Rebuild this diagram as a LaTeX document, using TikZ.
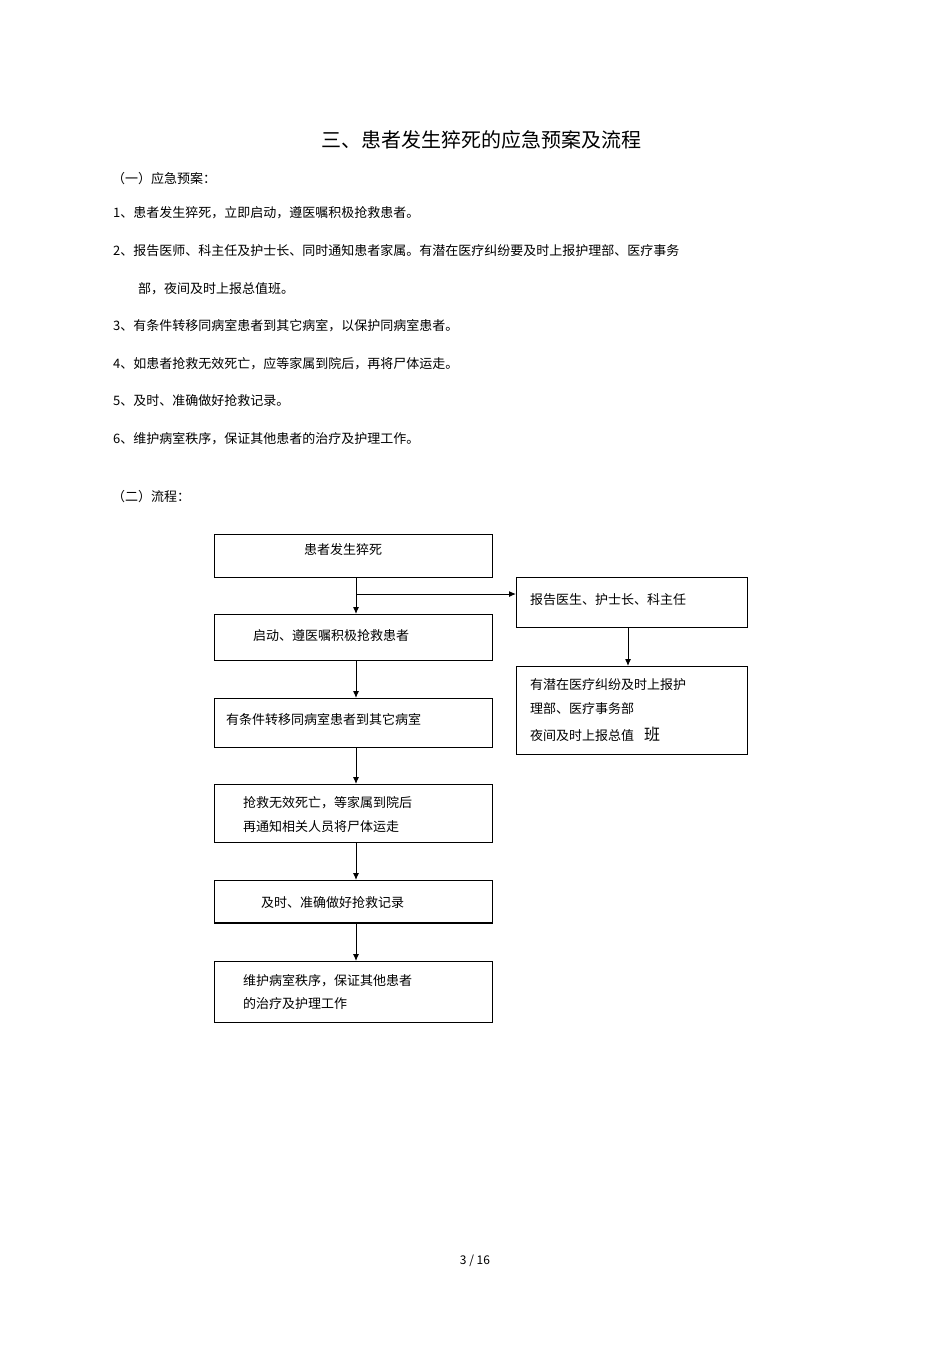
\documentclass[tikz,border=0pt]{standalone}
\usepackage{fontspec}
\setmainfont{Noto Sans CJK SC}
\usetikzlibrary{arrows.meta}
\begin{document}
\begin{tikzpicture}[x=1pt,y=-1pt,
  box/.style={draw,line width=0.8pt,minimum height=#1},
  txt/.style={anchor=west,inner sep=0,font=\fontsize{13}{24}\selectfont},
  arr/.style={-{Latex[length=7pt,width=6pt]},line width=1pt}]
\useasboundingbox (0,0) rectangle (950,1345);
\node[font=\fontsize{20}{24}\selectfont] (title) at (481,140) {三、患者发生猝死的应急预案及流程};
\node[txt] (h1) at (112,179) {（一）应急预案：};
\node[txt] (l1) at (113,213) {1、患者发生猝死，立即启动，遵医嘱积极抢救患者。};
\node[txt] (l2) at (113,251) {2、报告医师、科主任及护士长、同时通知患者家属。有潜在医疗纠纷要及时上报护理部、医疗事务};
\node[txt] (l2b) at (138,289) {部，夜间及时上报总值班。};
\node[txt] (l3) at (113,326) {3、有条件转移同病室患者到其它病室，以保护同病室患者。};
\node[txt] (l4) at (113,364) {4、如患者抢救无效死亡，应等家属到院后，再将尸体运走。};
\node[txt] (l5) at (113,401) {5、及时、准确做好抢救记录。};
\node[txt] (l6) at (113,439) {6、维护病室秩序，保证其他患者的治疗及护理工作。};
\node[txt] (h2) at (112,497) {（二）流程：};
\draw[line width=0.8pt] (214,534) rectangle (492,577);
\draw[line width=0.8pt] (214,614) rectangle (492,660);
\draw[line width=0.8pt] (214,698) rectangle (492,747);
\draw[line width=0.8pt] (214,784) rectangle (492,842);
\draw[line width=0.8pt] (214,880) rectangle (492,923);
\draw[line width=1.6pt] (215,923) -- (492,923);
\draw[line width=0.8pt] (214,961) rectangle (492,1022);
\draw[line width=0.8pt] (516,577) rectangle (747,627);
\draw[line width=0.8pt] (516,666) rectangle (747,754);
\coordinate (b1) at (356,577); \coordinate (t2) at (356,614);
\coordinate (b2) at (356,660); \coordinate (t3) at (356,698);
\coordinate (b3) at (356,747); \coordinate (t4) at (356,784);
\coordinate (b4) at (356,842); \coordinate (t5) at (356,880);
\coordinate (b5) at (356,923); \coordinate (t6) at (356,961);
\coordinate (br) at (356,594); \coordinate (rl) at (516,594);
\coordinate (rb) at (628,627); \coordinate (rt) at (628,666);
\draw[arr] (b1) -- (t2);
\draw[arr] (b2) -- (t3);
\draw[arr] (b3) -- (t4);
\draw[arr] (b4) -- (t5);
\draw[arr] (b5) -- (t6);
\draw[arr] (br) -- (rl);
\draw[arr] (rb) -- (rt);
\node[txt] (n1) at (304,550) {患者发生猝死};
\node[txt] (n2) at (253,636) {启动、遵医嘱积极抢救患者};
\node[txt] (n3) at (226,720) {有条件转移同病室患者到其它病室};
\node[txt] (n4a) at (243,803) {抢救无效死亡，等家属到院后};
\node[txt] (n4b) at (243,827) {再通知相关人员将尸体运走};
\node[txt] (n5) at (261,903) {及时、准确做好抢救记录};
\node[txt] (n6a) at (243,981) {维护病室秩序，保证其他患者};
\node[txt] (n6b) at (243,1004) {的治疗及护理工作};
\node[txt] (r1) at (530,600) {报告医生、护士长、科主任};
\node[txt] (r2a) at (530,685) {有潜在医疗纠纷及时上报护};
\node[txt] (r2b) at (530,709) {理部、医疗事务部};
\node[txt] (r2c) at (530,734) {夜间及时上报总值\hspace{10pt}{\fontsize{16}{20}\selectfont 班}};
\node[font=\fontsize{12}{14}\selectfont] (pg) at (475,1261) {3 / 16};
\end{tikzpicture}
\end{document}
